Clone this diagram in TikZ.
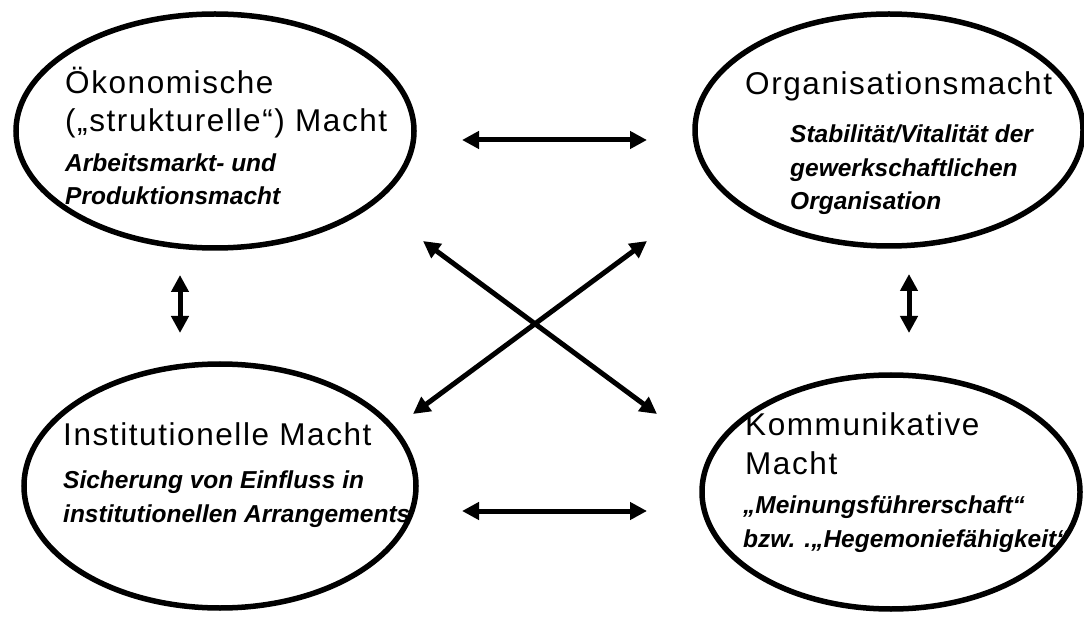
\documentclass[tikz,border=0pt]{standalone}
\usepackage{fontspec}
\setmainfont{Liberation Sans}
\newfontfamily\headfont[LetterSpace=5]{Liberation Sans}
\usetikzlibrary{shapes.geometric,arrows.meta}

\begin{document}
\begin{tikzpicture}
                [x=1pt,y=-1pt,
                oval/.style={ellipse,draw=black,line width=5.5pt,inner sep=0pt},
                head/.style={anchor=base west,align=left,inner sep=0pt,font=\headfont\fontsize{31.5}{38.5}\selectfont},
                sub/.style={anchor=base west,align=left,inner sep=0pt,font=\bfseries\itshape\fontsize{24.5}{33.5}\selectfont},
                arrow/.style={{Triangle[length=17pt,width=17pt]}-{Triangle[length=17pt,width=17pt]},line width=5pt},
                ]
                \useasboundingbox (0,0) rectangle (1084,617);
                % the four kinds of power (base anchor = last line)
                \node[oval,minimum width=398pt,minimum height=234pt] (oek) at (215,131) {};
                \node[oval,minimum width=388pt,minimum height=232pt] (org) at (889,130) {};
                \node[oval,minimum width=392pt,minimum height=244pt] (inst) at (220,486) {};
                \node[oval,minimum width=378pt,minimum height=234pt] (komm) at (891,492) {};
                \node[head] (oekT) at (65,132) {Ökonomische\\(„strukturelle“) Macht};
                \node[sub] (oekS) at (65,205) {Arbeitsmarkt- und\\Produktionsmacht};
                \node[head] (orgT) at (745,95) {Organisationsmacht};
                \node[sub] (orgS) at (790,210) {Stabilität/Vitalität der\\gewerkschaftlichen\\Organisation};
                \node[head] (instT) at (63,445) {Institutionelle Macht};
                \node[sub] (instS) at (63,522) {Sicherung von Einfluss in\\institutionellen Arrangements};
                \node[head] (kommT) at (745,474) {Kommunikative\\Macht};
                \node[sub] (kommS) at (743,547) {„Meinungsführerschaft“\\bzw. .„Hegemoniefähigkeit“};
                % arrow ends
                \coordinate (oekE) at (462,140);  \coordinate (orgW) at (647,140);
                \coordinate (instE) at (462,511); \coordinate (kommW) at (647,511);
                \coordinate (oekS1) at (180,275); \coordinate (instN) at (180,333);
                \coordinate (orgS1) at (909,274); \coordinate (kommN) at (909,333);
                \coordinate (oekSE) at (423,241); \coordinate (kommNW) at (657,414);
                \coordinate (orgSW) at (647,241); \coordinate (instNE) at (413,414);
                \draw[arrow] (oekE) -- (orgW);
                \draw[arrow] (instE) -- (kommW);
                \draw[arrow] (oekS1) -- (instN);
                \draw[arrow] (orgS1) -- (kommN);
                \draw[arrow] (oekSE) -- (kommNW);
                \draw[arrow] (orgSW) -- (instNE);
            \end{tikzpicture}
\end{document}
